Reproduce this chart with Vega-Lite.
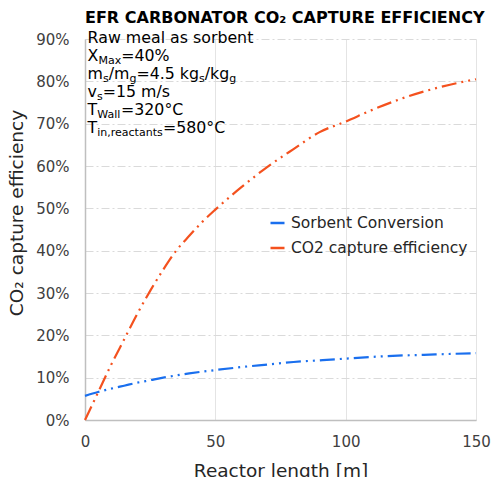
{
  "$schema": "https://vega.github.io/schema/vega-lite/v6.json",
  "width": 391,
  "height": 381,
  "autosize": "none",
  "padding": {"left": 85, "top": 39, "right": 18, "bottom": 57},
  "background": "white",
  "title": {
    "text": "EFR CARBONATOR CO₂ CAPTURE EFFICIENCY",
    "anchor": "start",
    "frame": "group",
    "font": "DejaVu Sans",
    "fontSize": 16,
    "fontWeight": "bold",
    "color": "#000000",
    "baseline": "alphabetic",
    "offset": 14,
    "dy": 23
  },
  "datasets": {
    "lines": [
      {"series": "Sorbent Conversion", "len": 0, "val": 0.057},
      {"series": "Sorbent Conversion", "len": 5, "val": 0.066},
      {"series": "Sorbent Conversion", "len": 10, "val": 0.074},
      {"series": "Sorbent Conversion", "len": 15, "val": 0.081},
      {"series": "Sorbent Conversion", "len": 20, "val": 0.088},
      {"series": "Sorbent Conversion", "len": 25, "val": 0.094},
      {"series": "Sorbent Conversion", "len": 30, "val": 0.1},
      {"series": "Sorbent Conversion", "len": 40, "val": 0.11},
      {"series": "Sorbent Conversion", "len": 50, "val": 0.118},
      {"series": "Sorbent Conversion", "len": 60, "val": 0.125},
      {"series": "Sorbent Conversion", "len": 70, "val": 0.131},
      {"series": "Sorbent Conversion", "len": 80, "val": 0.137},
      {"series": "Sorbent Conversion", "len": 90, "val": 0.141},
      {"series": "Sorbent Conversion", "len": 100, "val": 0.145},
      {"series": "Sorbent Conversion", "len": 110, "val": 0.149},
      {"series": "Sorbent Conversion", "len": 120, "val": 0.152},
      {"series": "Sorbent Conversion", "len": 130, "val": 0.154},
      {"series": "Sorbent Conversion", "len": 140, "val": 0.156},
      {"series": "Sorbent Conversion", "len": 150, "val": 0.158},
      {"series": "CO2 capture efficiency", "len": 0, "val": 0.0},
      {"series": "CO2 capture efficiency", "len": 5, "val": 0.065},
      {"series": "CO2 capture efficiency", "len": 10, "val": 0.13},
      {"series": "CO2 capture efficiency", "len": 15, "val": 0.19},
      {"series": "CO2 capture efficiency", "len": 20, "val": 0.25},
      {"series": "CO2 capture efficiency", "len": 25, "val": 0.305},
      {"series": "CO2 capture efficiency", "len": 30, "val": 0.355},
      {"series": "CO2 capture efficiency", "len": 35, "val": 0.4},
      {"series": "CO2 capture efficiency", "len": 40, "val": 0.435},
      {"series": "CO2 capture efficiency", "len": 45, "val": 0.468},
      {"series": "CO2 capture efficiency", "len": 50, "val": 0.497},
      {"series": "CO2 capture efficiency", "len": 60, "val": 0.55},
      {"series": "CO2 capture efficiency", "len": 70, "val": 0.598},
      {"series": "CO2 capture efficiency", "len": 80, "val": 0.64},
      {"series": "CO2 capture efficiency", "len": 90, "val": 0.68},
      {"series": "CO2 capture efficiency", "len": 100, "val": 0.705},
      {"series": "CO2 capture efficiency", "len": 110, "val": 0.732},
      {"series": "CO2 capture efficiency", "len": 120, "val": 0.756},
      {"series": "CO2 capture efficiency", "len": 130, "val": 0.776},
      {"series": "CO2 capture efficiency", "len": 140, "val": 0.792},
      {"series": "CO2 capture efficiency", "len": 150, "val": 0.805}
    ],
    "notes": [
      {"t": "Raw meal as sorbent", "len": 1.0, "val": 0.8906, "k": "main"},
      {"t": "X", "len": 1.0, "val": 0.8481, "k": "main"},
      {"t": "Max", "len": 5.15, "val": 0.8481, "k": "sub"},
      {"t": "=40%", "len": 13.87, "val": 0.8481, "k": "main"},
      {"t": "m", "len": 1.0, "val": 0.8056, "k": "main"},
      {"t": "s", "len": 6.9, "val": 0.8056, "k": "sub"},
      {"t": "/m", "len": 9.1, "val": 0.8056, "k": "main"},
      {"t": "g", "len": 17.05, "val": 0.8056, "k": "sub"},
      {"t": "=4.5 kg", "len": 19.73, "val": 0.8056, "k": "main"},
      {"t": "s", "len": 43.73, "val": 0.8056, "k": "sub"},
      {"t": "/kg", "len": 45.93, "val": 0.8056, "k": "main"},
      {"t": "g", "len": 55.33, "val": 0.8056, "k": "sub"},
      {"t": "v", "len": 1.0, "val": 0.763, "k": "main"},
      {"t": "s", "len": 4.59, "val": 0.763, "k": "sub"},
      {"t": "=15 m/s", "len": 6.78, "val": 0.763, "k": "main"},
      {"t": "T", "len": 1.0, "val": 0.7205, "k": "main"},
      {"t": "Wall", "len": 4.7, "val": 0.7205, "k": "sub"},
      {"t": "=320°C", "len": 13.81, "val": 0.7205, "k": "main"},
      {"t": "T", "len": 1.0, "val": 0.678, "k": "main"},
      {"t": "in,reactants", "len": 4.7, "val": 0.678, "k": "sub"},
      {"t": "=580°C", "len": 29.9, "val": 0.678, "k": "main"}
    ]
  },
  "encoding": {
    "x": {
      "field": "len",
      "type": "quantitative",
      "scale": {"domain": [0, 150], "nice": false, "zero": false},
      "axis": {
        "values": [0, 50, 100, 150],
        "title": "Reactor length [m]",
        "grid": true,
        "gridColor": "#e4e4e4",
        "gridWidth": 1,
        "labelFlush": false,
        "titleY": 56,
        "titleBaseline": "alphabetic"
      }
    },
    "y": {
      "field": "val",
      "type": "quantitative",
      "scale": {"domain": [0, 0.9], "nice": false},
      "axis": {
        "values": [0, 0.1, 0.2, 0.3, 0.4, 0.5, 0.6, 0.7, 0.8, 0.9],
        "format": ".0%",
        "title": "CO₂ capture efficiency",
        "grid": true,
        "gridColor": "#dadada",
        "gridDash": [8, 3, 2, 3],
        "labelFlush": false,
        "titleX": -63,
        "titleY": 173.5,
        "titleAngle": -90,
        "titleAlign": "center",
        "titleBaseline": "alphabetic"
      }
    }
  },
  "layer": [
    {
      "data": {"name": "lines"},
      "mark": {"type": "line", "strokeWidth": 2.2, "strokeDash": [15, 5, 2, 5, 2, 5], "interpolate": "monotone"},
      "encoding": {
        "color": {
          "field": "series",
          "type": "nominal",
          "scale": {
            "domain": ["Sorbent Conversion", "CO2 capture efficiency"],
            "range": ["#1a6fee", "#f4511e"]
          },
          "legend": {
            "title": null,
            "orient": "none",
            "legendX": 184,
            "legendY": 175.5,
            "symbolType": "stroke",
            "symbolSize": 196,
            "symbolStrokeWidth": 2.5,
            "symbolDash": [],
            "labelFontSize": 15.5,
            "labelFont": "DejaVu Sans",
            "labelColor": "#262626",
            "labelOffset": 5,
            "labelLimit": 400,
            "rowPadding": 8,
            "padding": 0
          }
        }
      }
    },
    {
      "data": {"name": "notes"},
      "transform": [{"filter": "datum.k === 'main'"}],
      "mark": {"type": "text", "align": "left", "baseline": "alphabetic", "font": "DejaVu Sans", "fontSize": 15.8, "color": "#000000"},
      "encoding": {"text": {"field": "t"}}
    },
    {
      "data": {"name": "notes"},
      "transform": [{"filter": "datum.k === 'sub'"}],
      "mark": {"type": "text", "align": "left", "baseline": "alphabetic", "font": "DejaVu Sans", "fontSize": 11, "dy": 3, "color": "#000000"},
      "encoding": {"text": {"field": "t"}}
    }
  ],
  "config": {
    "font": "DejaVu Sans",
    "view": {"stroke": null},
    "axis": {
      "ticks": false,
      "domainColor": "#bfbfbf",
      "domainWidth": 1.5,
      "labelFont": "DejaVu Sans",
      "labelFontSize": 15,
      "labelColor": "#404040",
      "titleFont": "DejaVu Sans",
      "titleFontSize": 18.5,
      "titleFontWeight": "normal",
      "titleColor": "#262626"
    },
    "axisX": {"labelPadding": 14},
    "axisY": {"labelPadding": 16}
  }
}
